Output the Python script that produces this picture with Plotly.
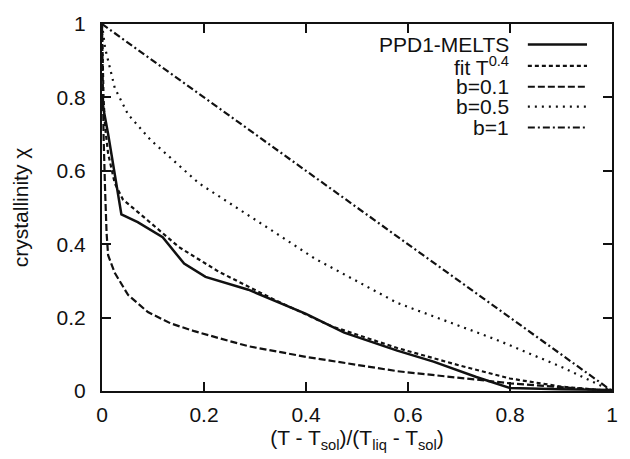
import plotly.graph_objects as go

# ---- data ----
melts_x = [0, 0.012, 0.038, 0.07, 0.119, 0.161, 0.203, 0.287, 0.4, 0.475, 0.579, 0.65, 0.734, 0.8, 0.9, 1.0]
melts_y = [0.79, 0.70, 0.481, 0.46, 0.419, 0.347, 0.311, 0.276, 0.21, 0.159, 0.11, 0.08, 0.038, 0.008, 0.005, 0.003]

fit_x = [0, 0.001, 0.003, 0.006, 0.012, 0.025, 0.041, 0.087, 0.151, 0.229, 0.287, 0.339, 0.449, 0.579, 0.7, 0.8, 0.9, 1.0]
fit_y = [1.0, 0.9, 0.8, 0.72, 0.647, 0.566, 0.522, 0.468, 0.392, 0.325, 0.285, 0.248, 0.177, 0.117, 0.07, 0.034, 0.012, 0.0]

b01_x = [0, 0.001, 0.003, 0.006, 0.009, 0.012, 0.025, 0.051, 0.09, 0.135, 0.181, 0.25, 0.287, 0.4, 0.579, 0.8, 0.9, 1.0]
b01_y = [1.0, 0.85, 0.7, 0.55, 0.43, 0.37, 0.322, 0.262, 0.215, 0.184, 0.163, 0.136, 0.122, 0.093, 0.054, 0.021, 0.01, 0.0]

b05_x = [0, 0.006, 0.025, 0.051, 0.096, 0.19, 0.339, 0.417, 0.579, 0.773, 0.902, 1.0]
b05_y = [1.0, 0.935, 0.826, 0.754, 0.683, 0.566, 0.432, 0.361, 0.24, 0.14, 0.065, 0.0]

b1_x = [0, 1.0]
b1_y = [1.0, 0.0]

names = ["PPD1-MELTS", "fit T<sup>0.4</sup>", "b=0.1", "b=0.5", "b=1"]
tick_vals = [0, 0.2, 0.4, 0.6, 0.8, 1]
tick_text = ["0", "0.2", "0.4", "0.6", "0.8", "1"]

# ---- styling ----
FONT = "Liberation Sans, Arial, Helvetica, sans-serif"
FS = 21
styles = [
    dict(color="#111", width=2.5, dash="solid"),
    dict(color="#111", width=2.2, dash="4px,3px"),
    dict(color="#111", width=2.2, dash="7px,3px"),
    dict(color="#111", width=2.2, dash="2px,5px"),
    dict(color="#111", width=2.2, dash="7px,3px,2px,3px"),
]
series = [(melts_x, melts_y), (fit_x, fit_y), (b01_x, b01_y), (b05_x, b05_y), (b1_x, b1_y)]

fig = go.Figure()
for (xs, ys), st, nm in zip(series, styles, names):
    fig.add_trace(go.Scatter(x=xs, y=ys, mode="lines", line=st, name=nm,
                             showlegend=False, cliponaxis=True))

# manual legend: right-aligned text, line sample to its right
legend_y = [0.944, 0.886, 0.829, 0.775, 0.718]
for nm, st, yy in zip(names, styles, legend_y):
    fig.add_annotation(x=0.802, y=yy, xref="paper", yref="paper", text=nm,
                       showarrow=False, xanchor="right", yanchor="middle",
                       font=dict(family=FONT, size=FS, color="#111"))
    fig.add_shape(type="line", xref="paper", yref="paper", x0=0.835, x1=0.951,
                  y0=yy, y1=yy, line=st)

axis_common = dict(
    range=[0, 1], tickvals=tick_vals, ticktext=tick_text,
    ticks="inside", ticklen=9, tickwidth=1.5, tickcolor="#111",
    showline=True, linecolor="#111", linewidth=2, mirror="ticks",
    showgrid=False, zeroline=False,
    tickfont=dict(family=FONT, size=FS, color="#111"),
)

fig.update_layout(
    width=630, height=459,
    margin=dict(l=102, r=13, t=18, b=68),
    paper_bgcolor="white", plot_bgcolor="white",
    xaxis=dict(**axis_common, ticklabelstandoff=4,
               title=dict(text="(T - T<sub>sol</sub>)/(T<sub>liq</sub> - T<sub>sol</sub>)",
                          font=dict(family=FONT, size=FS, color="#111"), standoff=4)),
    yaxis=dict(**axis_common, ticklabelstandoff=10,
               title=dict(text="crystallinity χ",
                          font=dict(family=FONT, size=FS, color="#111"), standoff=22)),
)

fig.write_html("out.html")
